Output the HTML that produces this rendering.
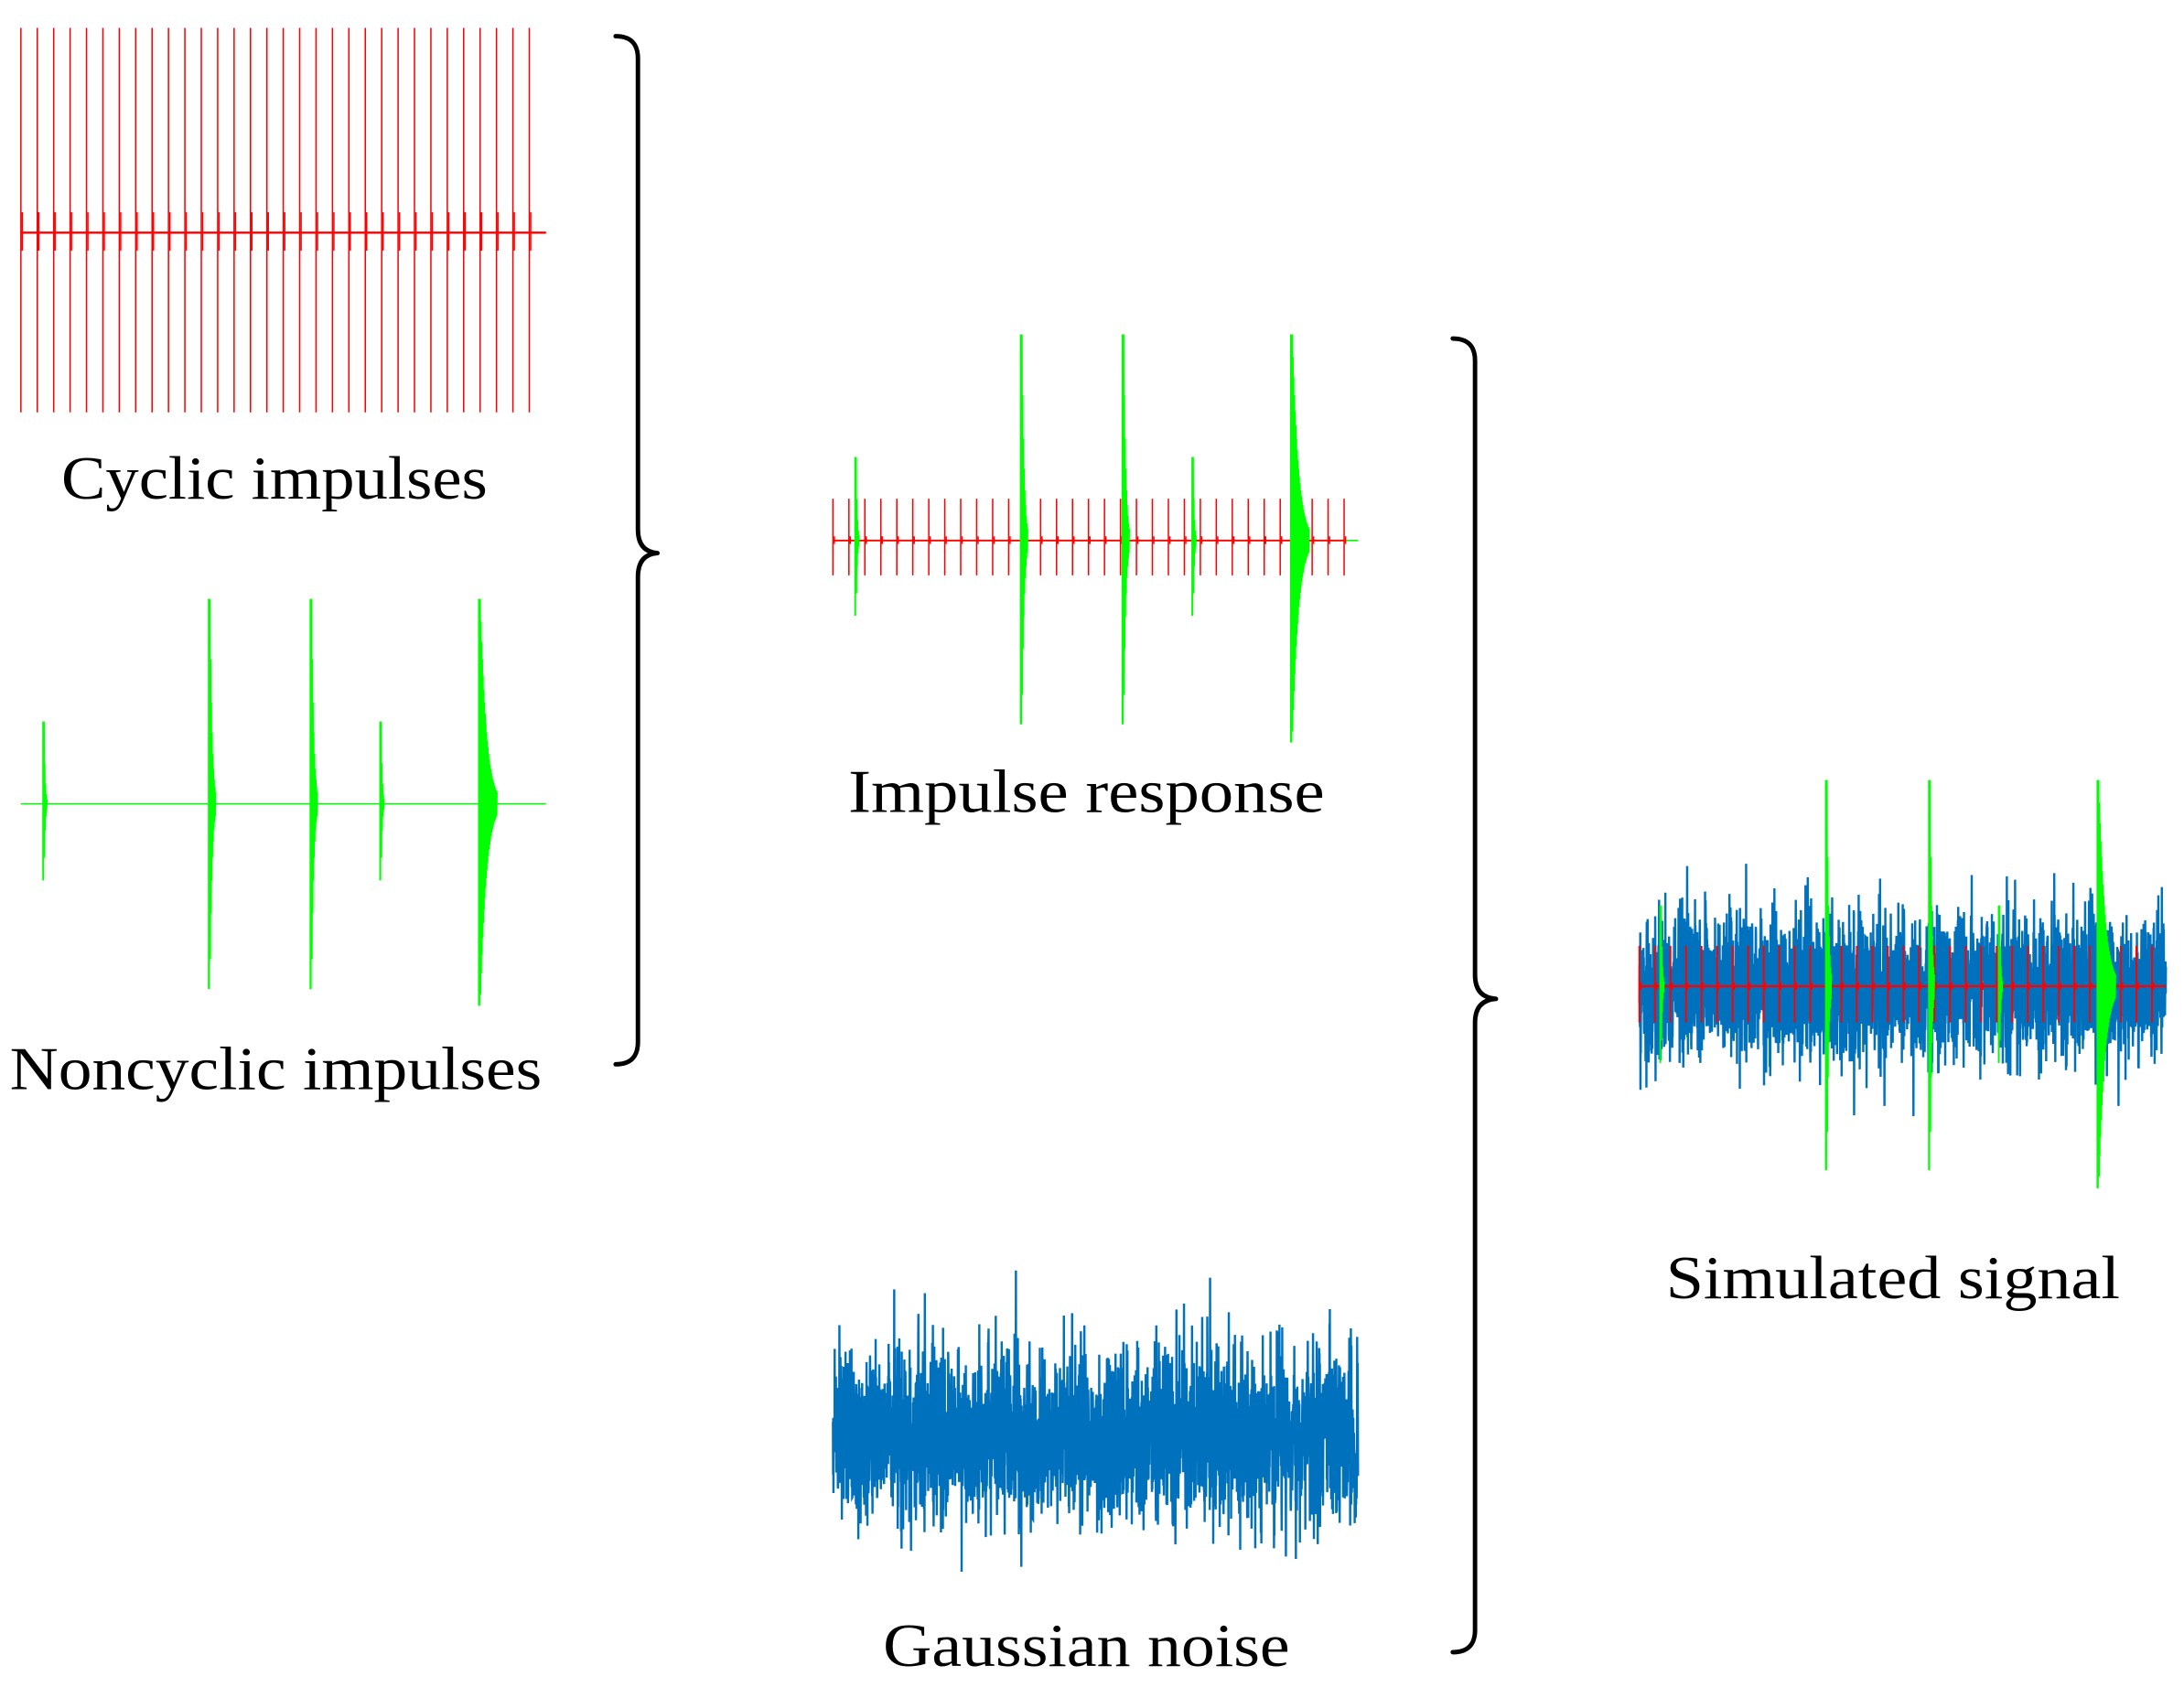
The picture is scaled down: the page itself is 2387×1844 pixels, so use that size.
<!DOCTYPE html>
<html><head><meta charset="utf-8"><style>html,body{margin:0;padding:0;background:#fff}svg{display:block}</style></head>
<body>
<svg id="s" width="2387" height="1844" viewBox="0 0 1568 1211" preserveAspectRatio="none" xmlns="http://www.w3.org/2000/svg">
<g font-family="Liberation Serif, serif" font-size="44" fill="#000" text-anchor="middle">
<text x="197" y="358" textLength="306" lengthAdjust="spacingAndGlyphs">Cyclic impulses</text>
<text x="198" y="782" textLength="382" lengthAdjust="spacingAndGlyphs">Noncyclic impulses</text>
<text x="780" y="583" textLength="342" lengthAdjust="spacingAndGlyphs">Impulse response</text>
<text x="780" y="1196" textLength="292" lengthAdjust="spacingAndGlyphs">Gaussian noise</text>
<text x="1359" y="932" textLength="326" lengthAdjust="spacingAndGlyphs">Simulated signal</text>
</g>
<g fill="none" stroke="#000" stroke-width="3.2" stroke-linecap="round" stroke-linejoin="round">
<path d="M442,26 Q458,26 458,42 L458,380 Q458,396 472,397 Q458,398 458,414 L458,748 Q458,764 442,764"/>
<path d="M1043,243 Q1059,243 1059,259 L1059,700 Q1059,716 1074,717 Q1059,718 1059,734 L1059,1170 Q1059,1186 1043,1186"/>
</g>
<g id="g"></g>
</svg>
<script>
var NS="http://www.w3.org/2000/svg",G=document.getElementById('g');
function el(t,a){var e=document.createElementNS(NS,t);for(var k in a)e.setAttribute(k,a[k]);G.appendChild(e);return e;}
var seed=12345;function rnd(){seed=(seed*1103515245+12345)%2147483648;return seed/2147483648;}
function gauss(){var u=rnd()||1e-9,v=rnd();return Math.sqrt(-2*Math.log(u))*Math.cos(6.2832*v);}
function noise(x0,x1,yc,sd,mx,n,w){var p=[];for(var i=0;i<n;i++){var x=x0+(x1-x0)*i/(n-1);var v=gauss()*sd;if(v>mx)v=mx;if(v<-mx)v=-mx;p.push(x.toFixed(2)+','+(yc+v).toFixed(2));}
el('polyline',{points:p.join(' '),fill:'none',stroke:'#0072bd','stroke-width':w});}
function cyc(x0,x1,n,yc,up,dn,w){for(var i=0;i<n;i++){var x=x0+(x1-x0)*i/(n-1);
el('line',{x1:x,y1:yc-up,x2:x,y2:yc+dn,stroke:'#f00','stroke-width':w});
el('line',{x1:x+1,y1:yc-up*0.1,x2:x+1,y2:yc+dn*0.1,stroke:'#f00','stroke-width':w});}}
function spike(x,yc,up,dn,len,w){
el('line',{x1:x,y1:yc-up,x2:x,y2:yc+dn,stroke:'#00ff00','stroke-width':w});
var p=[];var steps=Math.max(6,Math.round(len*4));for(var i=0;i<=steps;i++){var t=i/steps;var a=Math.exp(-2.5*t)*(1-t*0.3);var s=(i%2==0)?-up*a:dn*a;p.push((x+0.5+len*t).toFixed(2)+','+(yc+s).toFixed(2));}
el('polyline',{points:p.join(' '),fill:'none',stroke:'#00ff00','stroke-width':w});}
cyc(15,380,32,167,147,129,1);
el('line',{x1:15,y1:167,x2:392,y2:167,stroke:'#f00','stroke-width':1.6});
el('line',{x1:15,y1:577,x2:392,y2:577,stroke:'#00ff00','stroke-width':1});
spike(31,577,59,55,2,1.3);spike(150,577,147,133,4,1.5);spike(223,577,147,133,4,1.5);spike(273,577,59,55,2,1.3);spike(344,577,147,145,12,1.6);
el('line',{x1:598,y1:388,x2:975,y2:388,stroke:'#00ff00','stroke-width':1});
cyc(598,965,33,388,30,25,1);
el('line',{x1:598,y1:388,x2:965,y2:388,stroke:'#f00','stroke-width':1.2});
spike(614,388,60,54,2,1.3);spike(733,388,148,132,4,1.5);spike(806,388,148,132,4,1.5);spike(856,388,60,54,2,1.3);spike(927,388,148,145,12,1.6);
noise(598,975,1030,30,118,3000,1.6);
noise(1177,1555,708,26,95,3000,1.6);
cyc(1177,1545,34,708,29,26,1.3);
el('line',{x1:1177,y1:708,x2:1555,y2:708,stroke:'#f00','stroke-width':1.6});
spike(1192,708,58,55,2,1.3);spike(1311,708,148,132,3,1.5);spike(1385,708,148,132,3,1.5);spike(1435,708,58,55,2,1.3);spike(1506,708,148,145,12,1.6);
</script>
</body></html>
